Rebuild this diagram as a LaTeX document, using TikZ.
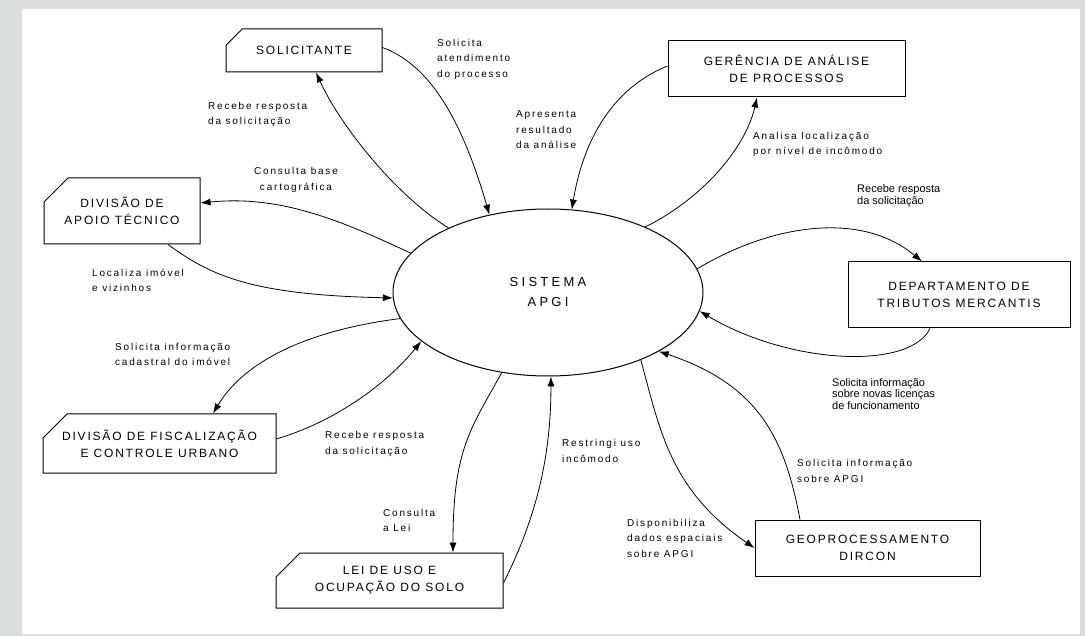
\documentclass[tikz,border=0pt]{standalone}
\usepackage{fontspec}
\setmainfont{Liberation Sans}
\newfontfamily\boxfont[LetterSpace=15]{Liberation Sans}
\newfontfamily\lblfont[LetterSpace=18]{Liberation Sans}
\newfontfamily\sisfont[LetterSpace=25]{Liberation Sans}
\usetikzlibrary{shapes.geometric,shapes.misc,arrows.meta}
\definecolor{bggray}{RGB}{218,222,220}

\tikzset{
  entity/.style={draw, line width=1pt, fill=white, align=center, inner sep=0pt,
    font=\boxfont\fontsize{12}{17}\selectfont},
  cutbox/.style={entity, chamfered rectangle, chamfered rectangle corners=north west,
    chamfered rectangle xsep=12pt, chamfered rectangle ysep=12pt},
  flow/.style={line width=0.8pt, -{Latex[length=10pt,width=7pt]}},
  lbl/.style={align=left, inner sep=0pt, anchor=west,
    font=\lblfont\fontsize{10}{15.5}\selectfont},
  smalllbl/.style={align=left, inner sep=0pt, anchor=west,
    font=\fontsize{11}{11.5}\selectfont},
}

\begin{document}
\begin{tikzpicture}[x=1pt, y=-1pt]
    % Page frame
    \useasboundingbox (0,0) rectangle (1085,636);
    \fill[bggray] (0,0) rectangle (1085,636);
    \fill[white] (22,9) rectangle (1080,634);

    % Central system
    \node[draw, ellipse, line width=1pt, minimum width=310pt, minimum height=167pt, inner sep=0pt,
      align=center, font=\sisfont\fontsize{13}{20}\selectfont] (sis) at (548,292.5) {SISTEMA\\APGI};

    % External entities
    \node[cutbox, minimum width=156pt, minimum height=43pt] (sol) at (304,50.5) {SOLICITANTE};
    \node[cutbox, minimum width=156pt, minimum height=66pt] (apoio) at (122,211) {DIVISÃO DE\\APOIO TÉCNICO};
    \node[entity, rectangle, minimum width=237pt, minimum height=56pt] (ger) at (786.5,69) {GERÊNCIA DE ANÁLISE\\DE PROCESSOS};
    \node[entity, rectangle, minimum width=222pt, minimum height=66pt] (dep) at (959,295) {DEPARTAMENTO DE\\TRIBUTOS MERCANTIS};
    \node[cutbox, minimum width=233pt, minimum height=59pt] (fisc) at (159.5,443.5) {DIVISÃO DE FISCALIZAÇÃO\\E CONTROLE URBANO};
    \node[cutbox, minimum width=227pt, minimum height=55pt] (lei) at (389.5,580.5) {LEI DE USO E\\OCUPAÇÃO DO SOLO};
    \node[entity, rectangle, minimum width=225pt, minimum height=56pt] (geo) at (867.5,548) {GEOPROCESSAMENTO\\DIRCON};

    % Flows
    \draw[flow] ([yshift=3pt]sol.east) .. controls (430,65) and (462,120) .. (sis.127);
    \draw[flow] (sis.147) .. controls (395,195) and (340,125) .. ([xshift=12pt]sol.south);
    \draw[flow] ([yshift=3pt]ger.west) .. controls (620,85) and (585,130) .. (sis.74);
    \draw[flow] (sis.34) .. controls (700,200) and (745,150) .. ([xshift=-29.5pt]ger.south);
    \draw[flow] (sis.9) .. controls (770,225) and (860,210) .. ([xshift=-37pt]dep.north);
    \draw[flow] ([xshift=-29pt]dep.south) .. controls (910,370) and (790,365) .. (sis.-7.5);
    \draw[flow] ([xshift=-67.5pt]geo.north) .. controls (785,440) and (760,385) .. (sis.-28);
    \draw[flow] (sis.-36.5) .. controls (660,430) and (670,490) .. (geo.west);
    \draw[flow] ([yshift=-2.5pt]lei.east) .. controls (535,520) and (551,460) .. (sis.-88);
    \draw[flow] (sis.-120) .. controls (470,430) and (453,450) .. ([xshift=63.5pt]lei.north);
    \draw[flow] ([yshift=4.5pt]fisc.east) .. controls (340,420) and (390,380) .. (sis.-159);
    \draw[flow] (sis.-170.5) .. controls (310,330) and (245,360) .. ([xshift=53.5pt]fisc.north);
    \draw[flow] ([xshift=46pt]apoio.south) .. controls (210,275) and (250,295) .. (sis.-178);
    \draw[flow] (sis.164.5) .. controls (340,220) and (280,195) .. ([yshift=8pt]apoio.east);

    % Flow labels
    \node[lbl] (l1) at (437,59) {Solicita\\atendimento\\do processo};
    \node[lbl] (l2) at (208,114.5) {Recebe resposta\\da solicitação};
    \node[lbl, anchor=center, align=center] (l3) at (296,180) {Consulta base\\cartográfica};
    \node[lbl] (l4) at (516,130) {Apresenta\\resultado\\da análise};
    \node[lbl] (l5) at (753,144.5) {Analisa localização\\por nível de incômodo};
    \node[smalllbl] (l6) at (857,195.5) {Recebe resposta\\da solicitação};
    \node[lbl] (l7) at (92,280.5) {Localiza imóvel\\e vizinhos};
    \node[lbl] (l8) at (115,354.5) {Solicita informação\\cadastral do imóvel};
    \node[lbl] (l9) at (325,444) {Recebe resposta\\da solicitação};
    \node[lbl] (l10) at (383,520.5) {Consulta\\a Lei};
    \node[lbl] (l11) at (562,451) {Restringi uso\\incômodo};
    \node[lbl] (l12) at (627,538) {Disponibiliza\\dados espaciais\\sobre APGI};
    \node[lbl] (l13) at (797,471) {Solicita informação\\sobre APGI};
    \node[smalllbl] (l14) at (832,394) {Solicita informação\\sobre novas licenças\\de funcionamento};
\end{tikzpicture}
\end{document}
